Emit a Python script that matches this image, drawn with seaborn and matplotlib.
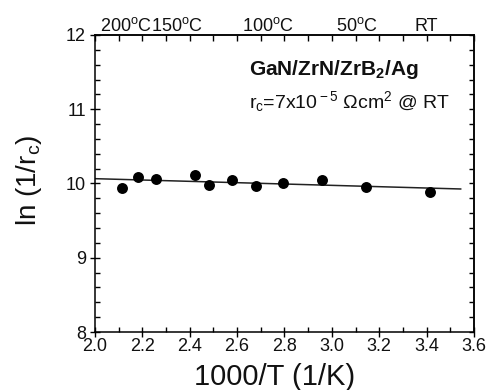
import numpy as np
import pandas as pd
import matplotlib
matplotlib.use("Agg")
import matplotlib.pyplot as plt
import matplotlib.transforms as mtransforms
from matplotlib.ticker import MultipleLocator, NullFormatter
import seaborn as sns

# Measured contact data: inverse temperature vs ln(1/rc)
inv_temp = [2.112, 2.182, 2.256, 2.422, 2.480, 2.577, 2.681, 2.792, 2.959, 3.143, 3.413]
ln_inv_rc = [9.943, 10.083, 10.065, 10.119, 9.975, 10.043, 9.970, 10.011, 10.043, 9.957, 9.881]

# Linear fit line endpoints
fit_x = [2.0, 3.545]
fit_y = [10.065, 9.926]

# Temperature labels along the top axis (position in 1000/T)
temp_labels = ["200$^{\\rm o}$C", "150$^{\\rm o}$C", "100$^{\\rm o}$C", "50$^{\\rm o}$C", "RT"]
temp_pos = [2.13, 2.345, 2.73, 3.105, 3.40]

sns.set_theme(style="ticks")
plt.rcParams["font.family"] = ["Liberation Sans", "DejaVu Sans"]
plt.rcParams["mathtext.fontset"] = "custom"
plt.rcParams["mathtext.rm"] = "Liberation Sans"
plt.rcParams["mathtext.it"] = "Liberation Sans"
plt.rcParams["mathtext.bf"] = "Liberation Sans:bold"

fig = plt.figure(figsize=(4.9, 3.9), dpi=100)
ax = fig.add_axes([0.1939, 0.1487, 0.7734, 0.7616])

df = pd.DataFrame({"x": inv_temp, "y": ln_inv_rc})
fit = pd.DataFrame({"x": fit_x, "y": fit_y})

sns.lineplot(data=fit, x="x", y="y", ax=ax, color="#222222", linewidth=1.1)
sns.scatterplot(data=df, x="x", y="y", ax=ax, color="black", s=62,
                edgecolor="black", linewidth=0, zorder=3)

ax.set_xlim(2.0, 3.6)
ax.set_ylim(8, 12)
ax.xaxis.set_minor_locator(MultipleLocator(0.1))
ax.yaxis.set_minor_locator(MultipleLocator(0.2))
ax.set_xticks(np.arange(2.0, 3.61, 0.2))
ax.set_xticklabels([f"{v:.1f}" for v in np.arange(2.0, 3.61, 0.2)])
ax.set_yticks([8, 9, 10, 11, 12])
ax.set_yticklabels(["8", "9", "10", "11", "12"])

ax.tick_params(which="major", direction="inout", length=7, width=1.0,
               color="black", labelsize=13, labelcolor="#111111")
ax.tick_params(axis="x", which="major", pad=1)
ax.tick_params(axis="y", which="major", pad=3)
ax.tick_params(which="minor", direction="in", length=3.5, width=1.0, color="black")

for sp in ax.spines.values():
    sp.set_color("black")
    sp.set_linewidth(1.1)

# Mirror ticks on the top and right edges
top = ax.secondary_xaxis("top")
top.xaxis.set_major_locator(MultipleLocator(0.1))
top.xaxis.set_major_formatter(NullFormatter())
top.tick_params(direction="in", length=4, width=1.0, color="black")
right = ax.secondary_yaxis("right")
right.yaxis.set_major_locator(MultipleLocator(0.2))
right.yaxis.set_major_formatter(NullFormatter())
right.tick_params(direction="in", length=3.5, width=1.0, color="black")

trans = mtransforms.blended_transform_factory(ax.transData, ax.transAxes)
for lab, pos in zip(temp_labels, temp_pos):
    ax.text(pos, 1.0135, lab, transform=trans, ha="center", va="baseline",
            fontsize=13, color="#111111")

ax.set_xlabel("1000/T (1/K)", fontsize=21, color="#111111", va="top")
ax.xaxis.set_label_coords(0.475, -0.105)
ax.set_ylabel("ln (1/r$_{\\rm c}$)", fontsize=20, color="#111111", va="bottom")
ax.yaxis.set_label_coords(-0.135, 0.51)

ax.text(0.407, 0.865, "GaN/ZrN/ZrB$_{\\bf 2}$/Ag", transform=ax.transAxes,
        fontsize=15, fontweight="bold", ha="left", va="baseline", color="#111111")
ax.text(0.407, 0.754, "r$_{\\rm c}$=7x10$^{\\rm -5}$ $\\Omega$cm$^{\\rm 2}$ @ RT",
        transform=ax.transAxes, fontsize=14, ha="left", va="baseline", color="#111111")

fig.savefig("out.png", dpi=100, facecolor="white")
